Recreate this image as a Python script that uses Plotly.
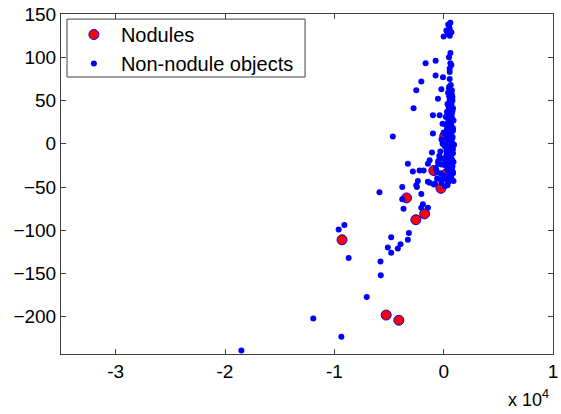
import plotly.graph_objects as go

# Nodules (x, y)
nod_x = [-250, -3394, -1743, -2541, -9294, -5257, -4100, -900, 200, 600, 100]
nod_y = [-51.5, -62.6, -81, -87.8, -111, -198, -204, -31, -35, -33, 9]

# Non-nodule objects
non_x = [615, 486, 550, 706, 248, 0, 367, 420, 560,
         615, 486, 615, 706, -1651, -734, 550, 550, -734, -64, 550, -2046,
         486, -211, -2505, -523, -2752, -982, -367,
         -4651, -982, -1073, -3275, -1440, -1284, -2816, -2202, -1835, -2358,
         -2505, -3789, -1284, -5871, -2449, -2046, -1440, -3789, -3670, -1899,
         -2046, -1440, -9082, -9605, -8688, -4798, -3275, -3183, -3945, -4193,
         -5110, -4798, -5780, -5752, -7037, -11926, -9358, -18504,
         600, 750, 500, 650, 800, 550, 700, 450, 850, 600, 300, 750, 500, 200,
         650, 900, 400, -100, 700, 550, 300, 850, 0, 650, 450, 800, -200, 600,
         350, 950, 100, 700, 500, -300, 850, 250, 650, -100, 450, 900, -500,
         150, 700, -700, 400, 800, -300, 600, 0, -600, 300, -200, -900, 100,
         650, 500, 750, 400, 600, 800, 550, 700, 350, 650, 500, 800, 600, 300,
         750, 450, 650, 200, 550, 850, 400, 700, 100, 600, 800, 300, 500, 750,
         -100, 650, 450, 850, 250, 700, 550, -400, 400, 750, 150, 600, -200,
         800, 350, 650, -600, 500, 200, 700, -300, 900, 450, -800, 600, 50,
         750, -500, 350, 850]
non_y = [140, 136, 133, 129, 131, 124, 127, 138, 125,
         105, 100, 93, 91, 93, 96, 87, 83, 79, 77, 75, 72,
         64, 63, 62, 52, 41, 33, 33,
         8.5, 12, -10, -23, -23, -19, -32, -31, -31, -43,
         -48, -50, -45, -56, -50, -58, -44, -64, -75, -70,
         -74, -74, -94, -99, -132, -108, -111, -103, -116, -121,
         -120, -126, -136, -152, -177, -202, -223, -239,
         60, 57, 55, 52, 50, 48, 45, 43, 41, 39, 37, 35, 33, 31,
         29, 27, 25, 23, 21, 19, 17, 15, 13, 11, 9, 7, 5, 3,
         1, -1, -3, -5, -7, -9, -11, -13, -15, -17, -19, -21, -23,
         -25, -27, -29, -30, -32, -34, -36, -38, -40, -42, -45, -47, -49,
         68, 66, 62, 59, 58, 54, 51, 47, 46, 44, 40, 38, 34, 32,
         30, 28, 24, 22, 20, 18, 16, 14, 12, 10, 8, 6, 4, 2,
         0, -2, -4, -6, -8, -10, -12, -14, -16, -18, -20, -22, -24,
         -26, -28, -31, -33, -35, -37, -39, -41, -43, -44, -46, -36, -40,
         -28, -20, -48, -34]

x_ticks = [-30000, -20000, -10000, 0, 10000]
x_tick_text = ["-3", "-2", "-1", "0", "1"]
y_ticks = [-200, -150, -100, -50, 0, 50, 100, 150]

font = "Liberation Sans, Arial, sans-serif"

fig = go.Figure()
fig.add_trace(go.Scatter(
    x=nod_x, y=nod_y, mode="markers", name="Nodules",
    marker=dict(symbol="circle", size=10, color="#FF0000",
                line=dict(color="#0000FF", width=1))))
fig.add_trace(go.Scatter(
    x=non_x, y=non_y, mode="markers", name="Non-nodule objects",
    marker=dict(symbol="circle", size=6, color="#0000FF", line=dict(width=0))))

axis_common = dict(showgrid=False, zeroline=False, showline=True, mirror="ticks",
                   linecolor="#404040", linewidth=1, ticks="inside", ticklen=5,
                   tickcolor="#404040", automargin=False,
                   tickfont=dict(family=font, size=19, color="black"))

fig.update_layout(
    width=561, height=414,
    margin=dict(l=61, r=8, t=14, b=60),
    paper_bgcolor="white", plot_bgcolor="white",
    showlegend=True,
    legend=dict(x=0.012, y=0.997, xanchor="left", yanchor="top",
                bgcolor="rgba(0,0,0,0)", borderwidth=0,
                font=dict(family=font, size=20, color="black"),
                itemsizing="trace", itemwidth=44, tracegroupgap=0),
    shapes=[dict(type="rect", xref="paper", yref="paper",
                 x0=0.0122, x1=0.496, y0=0.8147, y1=0.985,
                 line=dict(color="#404040", width=1),
                 fillcolor="white", layer="below")],
    xaxis=dict(range=[-35000, 10000], tickvals=x_ticks, ticktext=x_tick_text,
               **axis_common),
    yaxis=dict(range=[-243, 150], tickvals=y_ticks, **axis_common),
    annotations=[dict(text="x 10<sup>4</sup>", xref="paper", yref="paper",
                      x=0.995, y=-0.172, xanchor="right", yanchor="bottom",
                      showarrow=False,
                      font=dict(family=font, size=18, color="black"))],
)

fig.write_html("out.html")
